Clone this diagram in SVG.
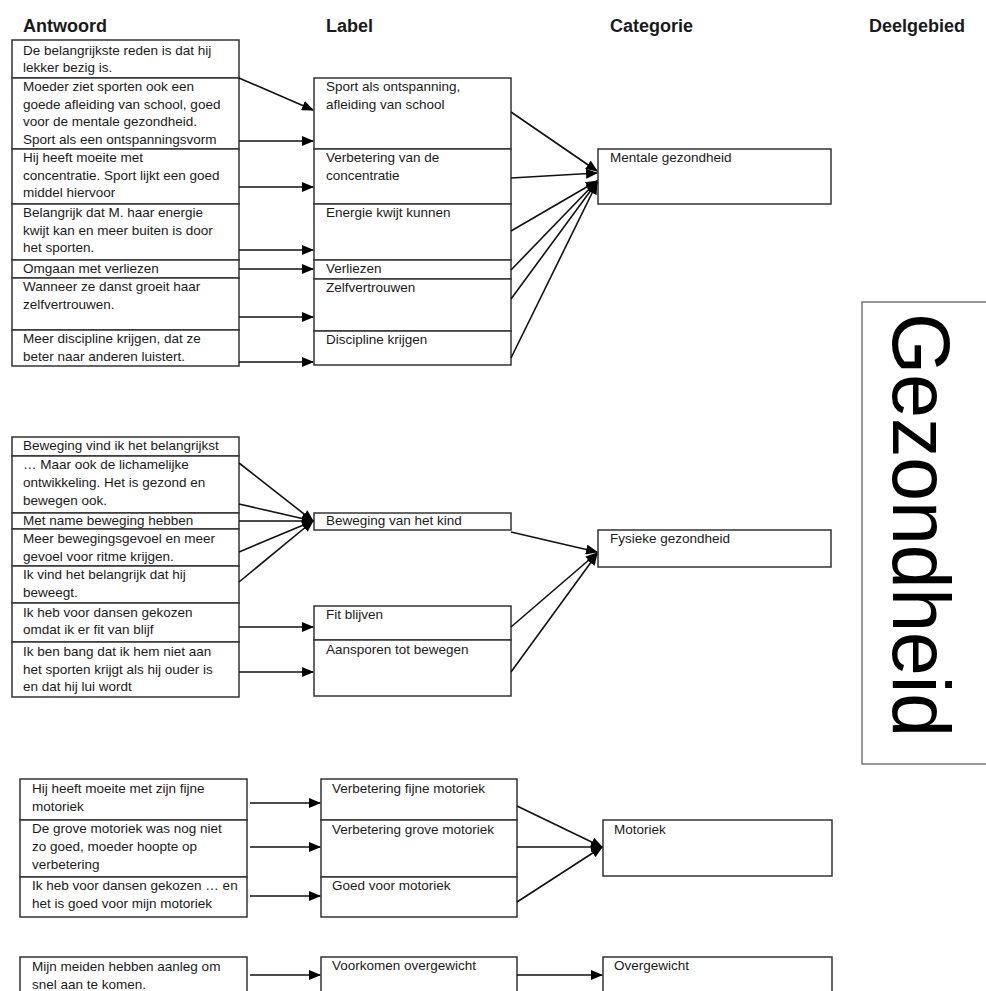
<svg xmlns="http://www.w3.org/2000/svg" width="986" height="991" viewBox="0 0 986 991">
<style>
.bg{fill:#fff}
.box{fill:#fff;stroke:#333;stroke-width:1.5}
.t{font-family:"Liberation Sans",Arial,sans-serif;font-size:13.5px;fill:#1a1a1a}
.h{font-family:"Liberation Sans",Arial,sans-serif;font-size:18px;font-weight:bold;fill:#1a1a1a}
.big{font-family:"Liberation Sans",Arial,sans-serif;font-size:82px;fill:#000}
.c{stroke:#111;stroke-width:1.6;fill:none;marker-end:url(#ah)}
</style>
<defs>
<marker id="ah" markerUnits="userSpaceOnUse" markerWidth="12" markerHeight="10" refX="11" refY="5" orient="auto">
<path d="M0,0 L12,5 L0,10 z" fill="#000"/>
</marker>
</defs>
<rect class="bg" x="0" y="0" width="986" height="991"/>

<g id="headers">
<text class="h" x="23" y="32">Antwoord</text>
<text class="h" x="326" y="32">Label</text>
<text class="h" x="610" y="32">Categorie</text>
<text class="h" x="869" y="32">Deelgebied</text>
</g>

<!-- Block 1: answers -->
<g id="a1"><rect class="box" x="12" y="40" width="227" height="38"/><text class="t" x="23" y="55">De belangrijkste reden is dat hij</text><text class="t" x="23" y="72">lekker bezig is.</text></g>
<g id="a2"><rect class="box" x="12" y="78" width="227" height="71"/><text class="t" x="23" y="91">Moeder ziet sporten ook een</text><text class="t" x="23" y="108.5">goede afleiding van school, goed</text><text class="t" x="23" y="126">voor de mentale gezondheid.</text><text class="t" x="23" y="143.5">Sport als een ontspanningsvorm</text></g>
<g id="a3"><rect class="box" x="12" y="149" width="227" height="55"/><text class="t" x="23" y="162">Hij heeft moeite met</text><text class="t" x="23" y="179.5">concentratie. Sport lijkt een goed</text><text class="t" x="23" y="197">middel hiervoor</text></g>
<g id="a4"><rect class="box" x="12" y="204" width="227" height="56"/><text class="t" x="23" y="217">Belangrijk dat M. haar energie</text><text class="t" x="23" y="234.5">kwijt kan en meer buiten is door</text><text class="t" x="23" y="252">het sporten.</text></g>
<g id="a5"><rect class="box" x="12" y="260" width="227" height="18"/><text class="t" x="23" y="273">Omgaan met verliezen</text></g>
<g id="a6"><rect class="box" x="12" y="278" width="227" height="52"/><text class="t" x="23" y="291">Wanneer ze danst groeit haar</text><text class="t" x="23" y="308.5">zelfvertrouwen.</text></g>
<g id="a7"><rect class="box" x="12" y="330" width="227" height="36"/><text class="t" x="23" y="343">Meer discipline krijgen, dat ze</text><text class="t" x="23" y="360.5">beter naar anderen luistert.</text></g>

<!-- Block 1: labels -->
<g id="l1"><rect class="box" x="314" y="78" width="197" height="71"/><text class="t" x="326" y="91">Sport als ontspanning,</text><text class="t" x="326" y="108.5">afleiding van school</text></g>
<g id="l2"><rect class="box" x="314" y="149" width="197" height="55"/><text class="t" x="326" y="162">Verbetering van de</text><text class="t" x="326" y="179.5">concentratie</text></g>
<g id="l3"><rect class="box" x="314" y="204" width="197" height="56"/><text class="t" x="326" y="217">Energie kwijt kunnen</text></g>
<g id="l4"><rect class="box" x="314" y="260" width="197" height="19"/><text class="t" x="326" y="273">Verliezen</text></g>
<g id="l5"><rect class="box" x="314" y="279" width="197" height="52"/><text class="t" x="326" y="292">Zelfvertrouwen</text></g>
<g id="l6"><rect class="box" x="314" y="331" width="197" height="34"/><text class="t" x="326" y="344">Discipline krijgen</text></g>

<g id="cat-mentaal"><rect class="box" x="598" y="149" width="233" height="55"/><text class="t" x="610" y="162">Mentale gezondheid</text></g>

<!-- Block 2: answers -->
<g id="b1"><rect class="box" x="12" y="437" width="227" height="19"/><text class="t" x="23" y="450">Beweging vind ik het belangrijkst</text></g>
<g id="b2"><rect class="box" x="12" y="456" width="227" height="57"/><text class="t" x="23" y="469">… Maar ook de lichamelijke</text><text class="t" x="23" y="487">ontwikkeling. Het is gezond en</text><text class="t" x="23" y="505">bewegen ook.</text></g>
<g id="b3"><rect class="box" x="12" y="513" width="227" height="16"/><text class="t" x="23" y="525">Met name beweging hebben</text></g>
<g id="b4"><rect class="box" x="12" y="529" width="227" height="37"/><text class="t" x="23" y="543">Meer bewegingsgevoel en meer</text><text class="t" x="23" y="561">gevoel voor ritme krijgen.</text></g>
<g id="b5"><rect class="box" x="12" y="566" width="227" height="37"/><text class="t" x="23" y="579">Ik vind het belangrijk dat hij</text><text class="t" x="23" y="597">beweegt.</text></g>
<g id="b6"><rect class="box" x="12" y="603" width="227" height="39"/><text class="t" x="23" y="617">Ik heb voor dansen gekozen</text><text class="t" x="23" y="634">omdat ik er fit van blijf</text></g>
<g id="b7"><rect class="box" x="12" y="642" width="227" height="55"/><text class="t" x="23" y="656">Ik ben bang dat ik hem niet aan</text><text class="t" x="23" y="674">het sporten krijgt als hij ouder is</text><text class="t" x="23" y="691">en dat hij lui wordt</text></g>

<!-- Block 2: labels -->
<g id="m1"><rect class="box" x="314" y="513" width="197" height="17"/><text class="t" x="326" y="525">Beweging van het kind</text></g>
<g id="m2"><rect class="box" x="314" y="606" width="197" height="34"/><text class="t" x="326" y="619">Fit blijven</text></g>
<g id="m3"><rect class="box" x="314" y="640" width="197" height="56"/><text class="t" x="326" y="654">Aansporen tot bewegen</text></g>

<g id="cat-fysiek"><rect class="box" x="598" y="530" width="233" height="37"/><text class="t" x="610" y="543">Fysieke gezondheid</text></g>

<!-- Block 3 -->
<g id="c1"><rect class="box" x="20" y="779" width="227" height="41"/><text class="t" x="32" y="793">Hij heeft moeite met zijn fijne</text><text class="t" x="32" y="811">motoriek</text></g>
<g id="c2"><rect class="box" x="20" y="820" width="227" height="57"/><text class="t" x="32" y="833">De grove motoriek was nog niet</text><text class="t" x="32" y="851">zo goed, moeder hoopte op</text><text class="t" x="32" y="869">verbetering</text></g>
<g id="c3"><rect class="box" x="20" y="877" width="227" height="40"/><text class="t" x="32" y="890">Ik heb voor dansen gekozen … en</text><text class="t" x="32" y="908">het is goed voor mijn motoriek</text></g>

<g id="n1"><rect class="box" x="321" y="779" width="196" height="41"/><text class="t" x="332" y="793">Verbetering fijne motoriek</text></g>
<g id="n2"><rect class="box" x="321" y="820" width="196" height="57"/><text class="t" x="332" y="834">Verbetering grove motoriek</text></g>
<g id="n3"><rect class="box" x="321" y="877" width="196" height="40"/><text class="t" x="332" y="890">Goed voor motoriek</text></g>

<g id="cat-motoriek"><rect class="box" x="603" y="820" width="229" height="56"/><text class="t" x="614" y="834">Motoriek</text></g>

<!-- Block 4 -->
<g id="d1"><rect class="box" x="20" y="957" width="227" height="50"/><text class="t" x="32" y="971">Mijn meiden hebben aanleg om</text><text class="t" x="32" y="989">snel aan te komen.</text></g>
<g id="o1"><rect class="box" x="321" y="957" width="196" height="50"/><text class="t" x="332" y="970">Voorkomen overgewicht</text></g>
<g id="cat-overgewicht"><rect class="box" x="603" y="957" width="229" height="50"/><text class="t" x="614" y="970">Overgewicht</text></g>

<g id="deelgebied"><rect x="862" y="302" width="140" height="462" fill="#fff" stroke="#555" stroke-width="1.2"/><text class="big" transform="translate(893,313) rotate(90)" textLength="424" lengthAdjust="spacingAndGlyphs">Gezondheid</text></g>

<g id="connectors">
<line class="c" x1="239" y1="78" x2="313" y2="110"/>
<line class="c" x1="239" y1="141" x2="313" y2="141"/>
<line class="c" x1="239" y1="187" x2="313" y2="187"/>
<line class="c" x1="239" y1="250" x2="313" y2="250"/>
<line class="c" x1="239" y1="269" x2="313" y2="269"/>
<line class="c" x1="239" y1="317" x2="313" y2="317"/>
<line class="c" x1="239" y1="362" x2="313" y2="362"/>

<line class="c" x1="511" y1="112" x2="597" y2="171"/>
<line class="c" x1="511" y1="178" x2="597" y2="173"/>
<line class="c" x1="511" y1="231" x2="597" y2="181"/>
<line class="c" x1="511" y1="270" x2="597" y2="181"/>
<line class="c" x1="511" y1="299" x2="597" y2="182"/>
<line class="c" x1="511" y1="358" x2="597" y2="183"/>

<line class="c" x1="239" y1="463" x2="313" y2="521"/>
<line class="c" x1="239" y1="504" x2="313" y2="521"/>
<line class="c" x1="239" y1="521" x2="313" y2="521"/>
<line class="c" x1="239" y1="552" x2="313" y2="521"/>
<line class="c" x1="239" y1="582" x2="313" y2="521"/>
<line class="c" x1="239" y1="627" x2="313" y2="627"/>
<line class="c" x1="239" y1="672" x2="313" y2="672"/>

<line class="c" x1="511" y1="532" x2="597" y2="552"/>
<line class="c" x1="511" y1="627" x2="597" y2="553"/>
<line class="c" x1="511" y1="672" x2="597" y2="554"/>

<line class="c" x1="250" y1="803" x2="320" y2="803"/>
<line class="c" x1="250" y1="847" x2="320" y2="847"/>
<line class="c" x1="250" y1="896" x2="320" y2="896"/>
<line class="c" x1="517" y1="806" x2="602" y2="847"/>
<line class="c" x1="517" y1="847" x2="602" y2="847"/>
<line class="c" x1="517" y1="902" x2="602" y2="847"/>

<line class="c" x1="250" y1="975" x2="320" y2="975"/>
<line class="c" x1="517" y1="975" x2="602" y2="975"/>
</g>
</svg>
